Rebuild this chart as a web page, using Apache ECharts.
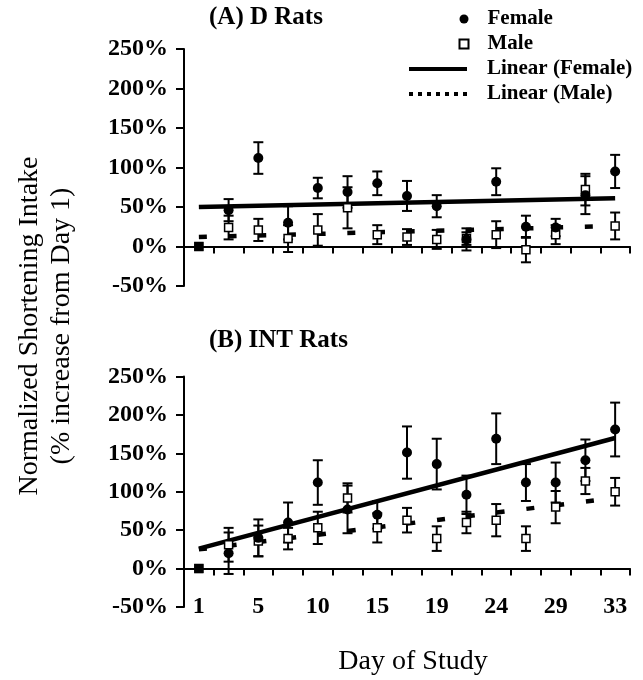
<!DOCTYPE html>
<html><head><meta charset="utf-8">
<script src="https://cdn.jsdelivr.net/npm/echarts@6/dist/echarts.min.js"></script>
<style>html,body{margin:0;padding:0;background:#fff}#c{width:643px;height:680px}</style>
</head><body><div id="c"></div>
<script>
// ---- data ----
const days = ['1','3','5','8','10','12','15','17','19','22','24','26','29','31','33'];
const yMin = -50, yMax = 250, yStep = 50;

// (A) D Rats
const femaleD    = [0, 46, 112, 30, 74, 69, 80, 64, 51, 9, 82, 25, 24, 65, 95];
const femaleDErr = [0, 14, 20, 21, 13, 20, 15, 19, 14, 14, 17, 14, 11, 24, 21];
const maleD      = [0, 24, 21, 10, 21, 49, 15, 12, 9, 10, 15, -4, 15, 72, 26];
const maleDErr   = [0, 15, 14, 17, 20, 26, 12, 10, 12, 8, 17, 16, 12, 20, 17];
const trendFemaleD = [50, 61];
const trendMaleD   = [12, 26];

// (B) INT Rats
const femaleI    = [0, 20, 40, 60, 112, 77, 70, 151, 136, 96, 169, 112, 112, 141, 181];
const femaleIErr = [0, 27, 24, 26, 29, 31, 18, 34, 33, 25, 33, 24, 26, 27, 35];
const maleI      = [0, 31, 36, 39, 53, 92, 53, 63, 39, 60, 63, 39, 80, 114, 100];
const maleIErr   = [0, 22, 20, 14, 21, 19, 19, 16, 16, 14, 21, 16, 21, 17, 18];
const trendFemaleI = [26, 170];
const trendMaleI   = [25, 92];

const trendX = [days[0], days[days.length - 1]];

// ---- chart ----
const serif = 'Liberation Serif';
const chart = echarts.init(document.getElementById('c'));

function errSeries(vals, errs, gi) {
  const data = [];
  vals.forEach((v, i) => { if (errs[i] > 0) data.push([i, v - errs[i], v + errs[i]]); });
  return {
    type: 'custom', xAxisIndex: gi, yAxisIndex: gi, z: 1, silent: true,
    encode: { x: 0, y: [1, 2] },
    data: data,
    renderItem: function (params, api) {
      const x = api.value(0);
      const lo = api.coord([x, api.value(1)]);
      const hi = api.coord([x, api.value(2)]);
      const w = 5;
      const st = { stroke: '#000', lineWidth: 2 };
      return { type: 'group', children: [
        { type: 'line', shape: { x1: lo[0], y1: lo[1], x2: hi[0], y2: hi[1] }, style: st },
        { type: 'line', shape: { x1: lo[0] - w, y1: lo[1], x2: lo[0] + w, y2: lo[1] }, style: st },
        { type: 'line', shape: { x1: hi[0] - w, y1: hi[1], x2: hi[0] + w, y2: hi[1] }, style: st }
      ]};
    }
  };
}

function panelSeries(fem, femErr, mal, malErr, tF, tM, gi, dash) {
  return [
    errSeries(fem, femErr, gi),
    errSeries(mal, malErr, gi),
    { name: 'Linear (Female)', type: 'line', xAxisIndex: gi, yAxisIndex: gi, z: 2, symbol: 'none', silent: true,
      data: [[trendX[0], tF[0]], [trendX[1], tF[1]]],
      itemStyle: { color: '#000' },
      lineStyle: { color: '#000', width: 4.5, type: 'solid' } },
    { name: 'Linear (Male)', type: 'line', xAxisIndex: gi, yAxisIndex: gi, z: 2, symbol: 'none', silent: true,
      data: [[trendX[0], tM[0]], [trendX[1], tM[1]]],
      itemStyle: { color: '#000' },
      lineStyle: { color: '#000', width: 4.5, type: dash } },
    { name: 'Male', type: 'scatter', xAxisIndex: gi, yAxisIndex: gi, z: 3, symbol: 'rect', symbolSize: 8,
      itemStyle: { color: '#fff', borderColor: '#000', borderWidth: 1.5, opacity: 1 },
      data: mal.map((v, i) => [days[i], v]) },
    { name: 'Female', type: 'scatter', xAxisIndex: gi, yAxisIndex: gi, z: 4, symbol: 'circle', symbolSize: 10,
      itemStyle: { color: '#000', opacity: 1 },
      data: fem.map((v, i) => i === 0 ? { value: [days[i], v], symbol: 'rect', symbolSize: 9 } : [days[i], v]) }
  ];
}

const tickFont = { fontFamily: serif, fontWeight: 'bold', fontSize: 24, color: '#000' };
const axisLine = { show: true, onZero: true, lineStyle: { color: '#000', width: 2 } };

function yAxis(gi) {
  return {
    type: 'value', gridIndex: gi, min: yMin, max: yMax, interval: yStep, position: 'left',
    axisLine: { show: true, lineStyle: { color: '#000', width: 2 } },
    axisTick: { show: true, length: 8, lineStyle: { color: '#000', width: 2 } },
    splitLine: { show: false },
    axisLabel: Object.assign({ formatter: '{value}%', margin: 16 }, tickFont)
  };
}
function xZero(gi) {
  return {
    type: 'category', gridIndex: gi, data: days, position: 'bottom', boundaryGap: true,
    axisLine: axisLine,
    axisTick: { show: true, interval: 0, length: 7, lineStyle: { color: '#000', width: 2 } },
    axisLabel: { show: false }, splitLine: { show: false }
  };
}

const legendText = { fontFamily: serif, fontWeight: 'bold', fontSize: 21, lineHeight: 25, color: '#000', padding: [0, 0, 0, 15] };
const dottedIcon = 'path://M0 0h4v4H0z M9 0h4v4H9z M18 0h4v4h-4z M27 0h4v4h-4z M36 0h4v4h-4z M45 0h4v4h-4z M54 0h4v4h-4z';
const titleText = { fontFamily: serif, fontWeight: 'bold', fontSize: 25, lineHeight: 25, color: '#000' };

const option = {
  animation: false,
  backgroundColor: '#fff',
  title: [
    { text: '(A) D Rats', left: 209, top: 5.5, padding: 0, textStyle: titleText },
    { text: '(B) INT Rats', left: 209, top: 328.5, padding: 0, textStyle: titleText }
  ],
  legend: [
    { data: [{ name: 'Female', icon: 'circle' }, { name: 'Male', icon: 'rect' }],
      orient: 'vertical', left: 458.5, top: 6.5, padding: 0, itemGap: 0, itemWidth: 9, itemHeight: 9,
      selectedMode: false, textStyle: Object.assign({}, legendText, { padding: [0, 0, 0, 14] }) },
    { data: [
        { name: 'Linear (Female)', icon: 'rect', itemStyle: { color: '#000', borderWidth: 0 } },
        { name: 'Linear (Male)', icon: dottedIcon, itemStyle: { color: '#000', borderWidth: 0 } }
      ],
      orient: 'vertical', left: 409, top: 56.5, padding: 0, itemGap: 0, itemWidth: 58, itemHeight: 4,
      selectedMode: false, textStyle: legendText }
  ],
  grid: [
    { left: 184, right: 13, top: 49, height: 237, outerBoundsMode: 'none' },
    { left: 184, right: 13, top: 376.5, height: 230.5, outerBoundsMode: 'none' }
  ],
  xAxis: [
    xZero(0),
    xZero(1),
    { type: 'category', gridIndex: 1, data: days, position: 'bottom', boundaryGap: true,
      axisLine: { show: false, onZero: false }, axisTick: { show: false }, splitLine: { show: false },
      axisLabel: Object.assign({ interval: 1, margin: 0, verticalAlign: 'middle' }, tickFont) }
  ],
  yAxis: [yAxis(0), yAxis(1)],
  graphic: [
    { type: 'text', x: 30, y: 326, rotation: Math.PI / 2,
      style: { text: 'Normalized Shortening Intake', font: '28px "Liberation Serif"', fill: '#000', align: 'center', verticalAlign: 'middle' } },
    { type: 'text', x: 62, y: 326, rotation: Math.PI / 2,
      style: { text: '(% increase from Day 1)', font: '28px "Liberation Serif"', fill: '#000', align: 'center', verticalAlign: 'middle' } },
    { type: 'text', x: 413, y: 662,
      style: { text: 'Day of Study', font: '28px "Liberation Serif"', fill: '#000', align: 'center', verticalAlign: 'middle' } }
  ],
  series: [].concat(
    panelSeries(femaleD, femaleDErr, maleD, maleDErr, trendFemaleD, trendMaleD, 0, [8, 21.7]),
    panelSeries(femaleI, femaleIErr, maleI, maleIErr, trendFemaleI, trendMaleI, 1, [8, 22])
  )
};
chart.setOption(option);
</script>
</body></html>
